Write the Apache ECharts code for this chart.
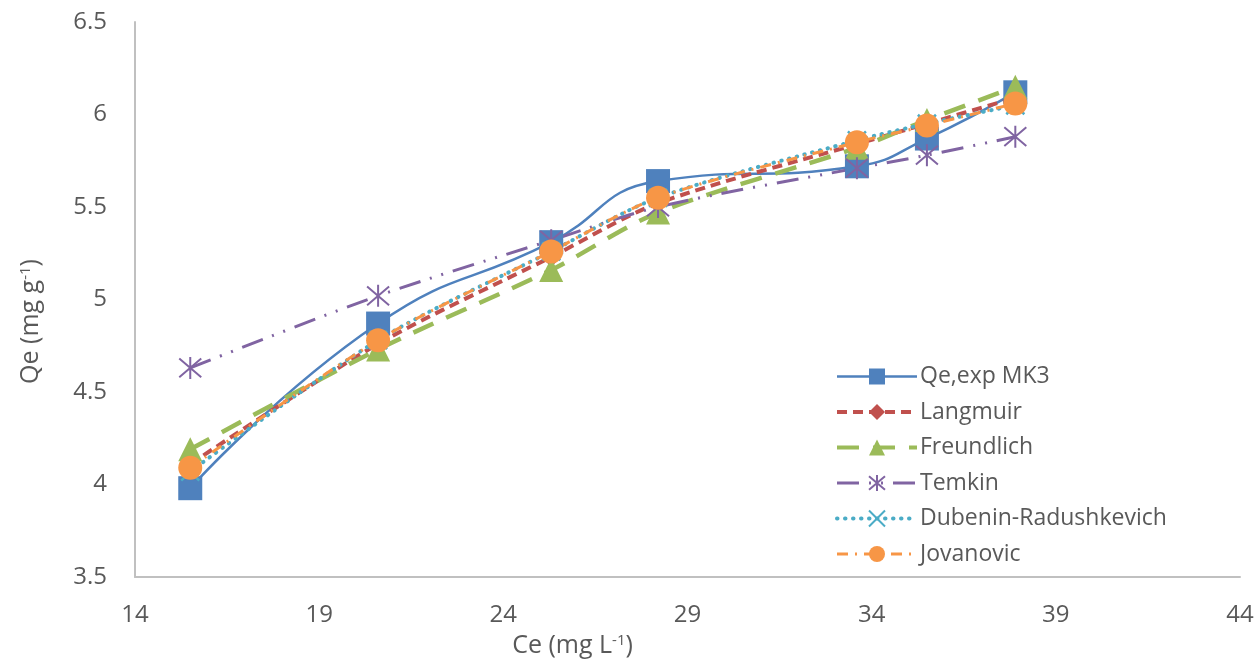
<!DOCTYPE html>
<html><head><meta charset="utf-8">
<script src="https://cdn.jsdelivr.net/npm/echarts@6/dist/echarts.min.js"></script>
<style>html,body{margin:0;padding:0;background:#fff}#c{width:1260px;height:661px}</style>
</head><body><div id="c"></div>
<script>
const ce = [15.5, 20.6, 25.3, 28.2, 33.6, 35.5, 37.9];
const qeExp = [3.98, 4.87, 5.31, 5.64, 5.72, 5.87, 6.12];
const langmuir = [4.11, 4.76, 5.23, 5.52, 5.84, 5.95, 6.09];
const freundlich = [4.19, 4.73, 5.16, 5.47, 5.82, 5.97, 6.15];
const temkin = [4.63, 5.02, 5.32, 5.50, 5.71, 5.78, 5.88];
const dubinin = [4.07, 4.78, 5.26, 5.55, 5.86, 5.95, 6.05];
const jovanovic = [4.09, 4.78, 5.26, 5.55, 5.85, 5.94, 6.06];
const xTicks = [14, 19, 24, 29, 34, 39, 44];
const yTicks = [3.5, 4, 4.5, 5, 5.5, 6, 6.5];
const names = ['Qe,exp MK3', 'Langmuir', 'Freundlich', 'Temkin', 'Dubenin-Radushkevich', 'Jovanovic'];

const FONT = '"Open Sans", Lato, sans-serif';
const GREY = '#595959';
const pair = a => ce.map((x, i) => [x, a[i]]);
const star = 'path://M0,-10L0,10M-8.5,-8.5L8.5,8.5M-8.5,8.5L8.5,-8.5';
const cross = 'path://M-10,-10L10,10M-10,10L10,-10';

const styles = [
  { color: '#4F81BD', width: 2.5, type: 'solid', cap: 'butt', symbol: 'rect', size: 24, smooth: 0.5 },
  { color: '#C0504D', width: 4, type: [10, 6], cap: 'butt', symbol: 'diamond', size: 20 },
  { color: '#9BBB59', width: 4.5, type: [22, 14], cap: 'butt', symbol: 'triangle', size: 24 },
  { color: '#8064A2', width: 3, type: [22, 10, 2, 10, 2, 10], cap: 'butt', symbol: star, size: 22, stroke: 2 },
  { color: '#4BACC6', width: 4, type: [0.5, 7.5], cap: 'round', symbol: cross, size: 18, stroke: 2.5 },
  { color: '#F79646', width: 3, type: [11, 7, 2, 7], cap: 'butt', symbol: 'circle', size: 24 }
];
const datasets = [qeExp, langmuir, freundlich, temkin, dubinin, jovanovic];

const series = names.map((n, i) => {
  const s = styles[i];
  return {
    name: n, type: 'line', data: pair(datasets[i]), smooth: s.smooth || 0.3,
    symbol: s.symbol, symbolSize: s.size,
    lineStyle: { color: s.color, width: s.width, type: s.type, cap: s.cap },
    itemStyle: s.stroke ? { color: 'none', borderColor: s.color, borderWidth: s.stroke } : { color: s.color },
    emphasis: { disabled: true }
  };
});
const legendData = names.map((n, i) => ({
  name: n,
  lineStyle: { width: Math.min(styles[i].width, 4), type: styles[i].type, color: styles[i].color, cap: styles[i].cap }
}));

const chart = echarts.init(document.getElementById('c'));
chart.setOption({
  animation: false,
  textStyle: { fontFamily: FONT },
  grid: { left: 135, right: 20, top: 22, bottom: 84, containLabel: false, outerBoundsMode: 'none' },
  xAxis: {
    type: 'value', min: xTicks[0], max: xTicks[xTicks.length - 1], interval: 5,
    axisLine: { show: true, lineStyle: { color: '#C0C0C0', width: 2 } },
    axisTick: { show: false }, splitLine: { show: false },
    axisLabel: { color: GREY, fontSize: 24, margin: 26, fontFamily: FONT },
    name: '{a|Ce (mg L}{s|-1}{a|)}', nameLocation: 'middle', nameGap: 56,
    nameTextStyle: { padding: [0, 230, 0, 0], rich: {
      a: { fontSize: 25, color: GREY, fontFamily: FONT },
      s: { fontSize: 15, color: GREY, fontFamily: FONT, verticalAlign: 'top', padding: [0, 0, 9, 0] } } }
  },
  yAxis: {
    type: 'value', min: yTicks[0], max: yTicks[yTicks.length - 1], interval: 0.5,
    axisLine: { show: true, lineStyle: { color: '#C0C0C0', width: 2 } },
    axisTick: { show: false }, splitLine: { show: false },
    axisLabel: { color: GREY, fontSize: 24, margin: 28, fontFamily: FONT },
    name: '{a|Qe (mg g}{s|-1}{a|)}', nameLocation: 'middle', nameGap: 92, nameRotate: 90,
    nameTextStyle: { padding: [0, 44, 0, 0], rich: {
      a: { fontSize: 25, color: GREY, fontFamily: FONT },
      s: { fontSize: 15, color: GREY, fontFamily: FONT, verticalAlign: 'top', padding: [0, 0, 9, 0] } } }
  },
  legend: {
    orient: 'vertical', left: 830, top: 360, itemWidth: 80, itemHeight: 20, itemGap: 12.5,
    textStyle: { fontSize: 23, color: GREY, fontFamily: FONT, padding: [0, 0, 0, -2] },
    data: legendData
  },
  series
});
</script></body></html>
